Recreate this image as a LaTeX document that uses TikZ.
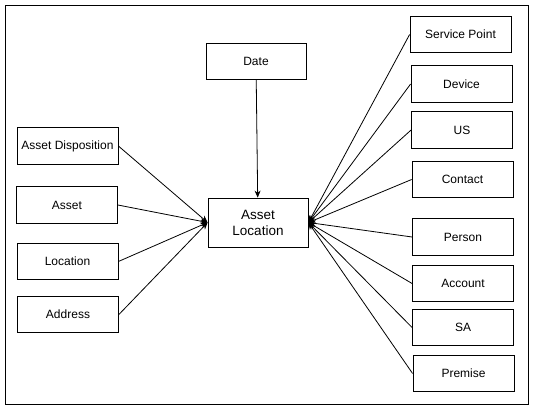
\documentclass[tikz,border=0pt]{standalone}
\usepackage{fontspec}
\setmainfont{Liberation Sans}
\usetikzlibrary{arrows.meta}

\begin{document}
\begin{tikzpicture}[x=1pt, y=-1pt, >={Stealth[length=7pt,width=6pt]}, line width=0.8pt,
  entity/.style={draw, minimum width=101pt, minimum height=36.5pt, inner sep=1pt, font=\fontsize{12}{14}\selectfont}]
\useasboundingbox (0,0) rectangle (535,412);
\draw (5,5) rectangle (528,404);

\node[entity, minimum width=100pt, minimum height=49pt, align=center, font=\fontsize{13.5}{16}\selectfont] (loc) at (258,222.5) {Asset\\Location};
\node[entity, minimum width=100pt] (date) at (256,61.5) {Date};

\node[entity] (disp) at (67.5,146) {Asset Disposition};
\node[entity] (asset) at (67,205) {Asset};
\node[entity] (location) at (67.5,261.5) {Location};
\node[entity] (address) at (68,314.5) {Address};

\node[entity] (sp) at (460.5,34.5) {Service Point};
\node[entity] (device) at (461.5,84) {Device};
\node[entity] (us) at (462,130) {US};
\node[entity] (contact) at (462.5,179.5) {Contact};
\node[entity] (person) at (463,237) {Person};
\node[entity] (account) at (463,283.5) {Account};
\node[entity] (sa) at (463,327.5) {SA};
\node[entity] (premise) at (463.5,373.5) {Premise};

\draw[->] (date) -- (loc);

\draw[->] (disp.east) -- (loc.west);
\draw[->] (asset.east) -- (loc.west);
\draw[->] (location.east) -- (loc.west);
\draw[->] (address.east) -- (loc.west);

\draw[->] (sp.west) -- (loc.east);
\draw[->] (device.west) -- (loc.east);
\draw[->] (us.west) -- (loc.east);
\draw[->] (contact.west) -- (loc.east);
\draw[->] (person.west) -- (loc.east);
\draw[->] (account.west) -- (loc.east);
\draw[->] (sa.west) -- (loc.east);
\draw[->] (premise.west) -- (loc.east);
\end{tikzpicture}
\end{document}
